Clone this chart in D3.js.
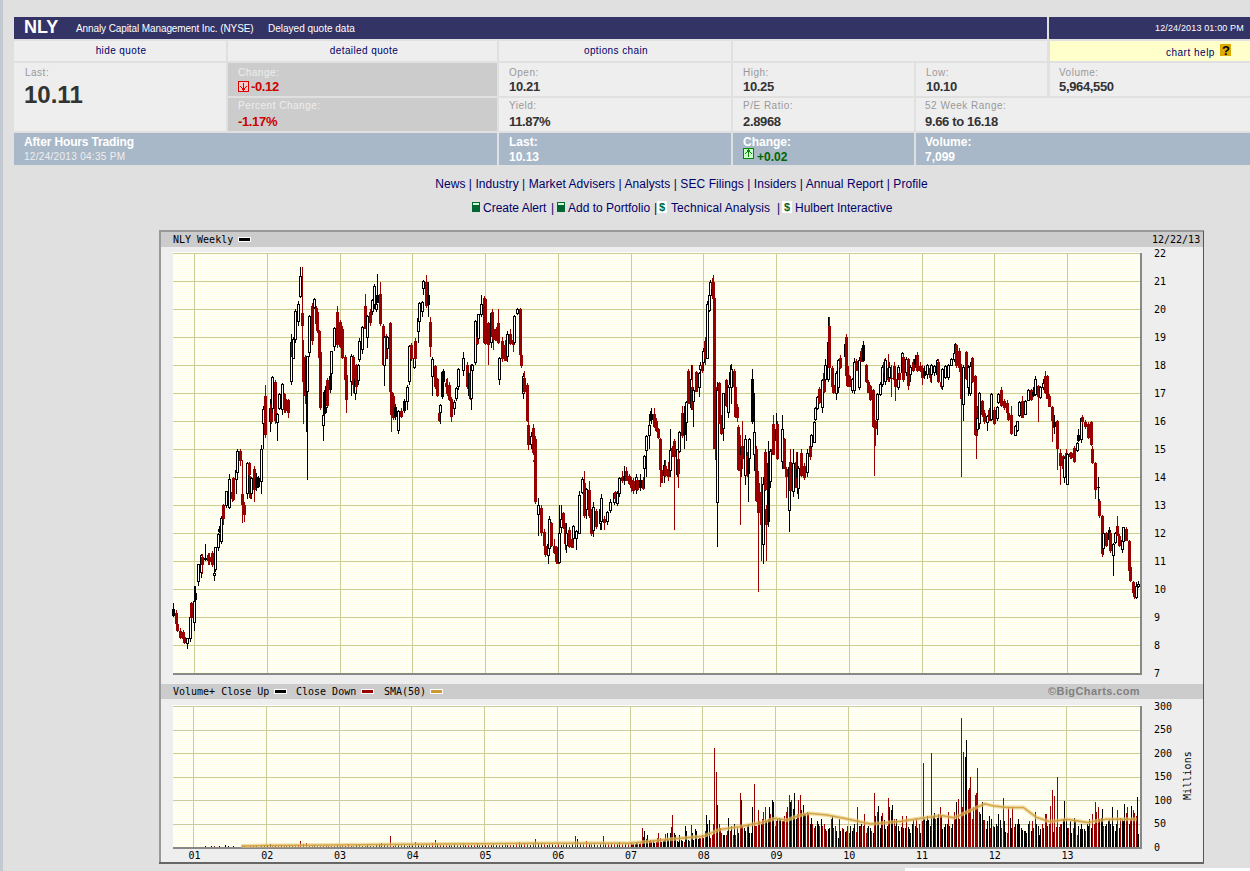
<!DOCTYPE html>
<html>
<head>
<meta charset="utf-8">
<title>NLY Weekly</title>
<script src="https://cdn.jsdelivr.net/npm/d3@7/dist/d3.min.js"></script>
<style>
html, body { margin: 0; padding: 0; background: #e0e0e0; overflow: hidden; }
svg { display: block; }
.mono { font-family: "DejaVu Sans Mono", monospace; font-size: 10px; fill: #000; }
.hdr { font-family: "Liberation Sans", Arial, sans-serif; }
.axis text { font-family: "DejaVu Sans Mono", monospace; font-size: 10px; fill: #000; }
.axis path, .axis line { display: none; }
</style>
</head>
<body>
<div id="chart"></div>
<script>
// weekly candles, one list per calendar year: [week, open, high, low, close]
var yr00 = [[37,9.3,9.5,9.0,9.05],[39,9.15,9.25,8.7,8.75],[40,8.75,8.85,8.45,8.5],[42,8.5,8.6,8.2,8.25],[44,8.45,8.55,8.2,8.22],[45,8.3,8.35,8.05,8.07],[47,8.05,8.25,7.85,8.25],[49,8.25,9.0,8.1,8.97],[50,9.5,9.55,8.9,8.95]];
var yr01 = [[0,8.8,10.1,8.5,9.55],[1,9.85,10.1,9.25,9.62],[3,10.27,10.9,10.1,10.87],[5,10.6,11.25,10.4,11.2],[6,11.15,11.25,10.55,10.85],[8,11.1,11.6,11.0,11.05],[10,11.2,11.3,10.85,11.0],[11,11.15,11.3,10.85,10.95],[13,11.3,11.35,10.8,10.85],[14,10.5,10.75,10.27,10.55],[15,10.7,11.5,10.6,11.5],[17,11.5,12.0,11.35,11.95],[18,12.15,12.25,12.0,12.05],[19,11.7,12.6,11.6,12.53],[21,13.0,13.05,12.3,12.5],[23,13.0,13.5,12.9,13.48],[25,12.9,14.1,12.85,13.9],[27,13.45,13.6,13.1,13.2],[28,13.95,14.0,13.15,13.18],[30,13.9,14.4,13.4,14.25],[31,14.15,15.0,13.9,14.9],[33,14.92,15.0,14.4,14.56],[34,13.4,14.6,12.35,13.0],[36,13.0,13.1,12.4,12.65],[38,13.4,14.55,13.2,14.5],[39,14.5,14.55,13.3,14.08],[40,14.0,14.05,13.2,13.25],[41,13.4,14.0,13.2,13.95],[43,14.3,14.4,13.1,13.55],[44,14.0,14.15,13.5,13.6],[46,13.95,14.05,13.6,13.65],[48,13.85,15.15,13.4,15.0],[49,15.9,16.55,15.0,16.4],[51,16.9,17.3,15.4,15.5]];
var yr02 = [[2,16.0,16.8,15.6,16.45],[3,16.6,16.8,15.9,15.95],[4,16.45,17.6,16.3,17.55],[6,17.4,17.45,15.9,16.0],[7,15.95,16.3,15.3,16.25],[9,16.46,17.0,16.4,16.95],[11,16.4,17.35,16.2,17.3],[12,16.95,17.0,16.3,16.4],[13,16.8,16.9,16.3,16.35],[15,16.75,16.8,16.1,16.3],[17,17.4,19.1,17.3,18.8],[18,18.8,18.85,18.2,18.3],[19,18.25,19.0,18.2,18.9],[20,18.9,20.0,18.8,19.9],[22,19.55,20.3,19.4,20.15],[24,20.45,21.5,20.4,21.15],[25,19.85,21.5,18.3,19.4],[26,18.3,18.9,15.9,17.4],[27,18.3,18.35,16.6,16.9],[28,18.2,18.3,15.6,17.05],[29,17.05,18.3,13.9,18.3],[30,18.45,19.8,18.3,19.75],[32,20.1,20.2,18.7,18.85],[34,20.05,20.4,20.0,20.35],[35,20.05,20.1,19.4,19.45],[36,19.9,20.0,19.15,19.2],[37,19.2,19.25,17.3,18.25],[38,18.45,18.6,16.4,16.45],[40,15.85,16.4,15.3,16.2],[41,17.05,17.1,15.9,16.25],[42,16.5,17.3,16.3,17.25],[43,17.45,17.55,16.5,16.55],[45,17.6,17.7,17.0,17.1],[46,17.7,18.5,17.55,18.5],[48,18.65,19.35,18.5,19.3],[50,19.9,20.1,18.6,18.7]];
var yr03 = [[0,19.55,19.6,18.6,18.65],[2,19.3,19.4,18.2,18.25],[4,18.3,18.35,17.4,17.45],[5,17.65,17.7,16.3,16.75],[8,17.4,18.4,16.9,18.3],[10,18.3,18.35,17.0,17.3],[11,17.0,17.6,16.75,17.5],[12,18.0,18.05,17.1,17.2],[13,17.45,18.05,17.3,18.0],[14,18.2,18.95,18.1,18.85],[16,18.55,19.4,18.4,19.35],[18,20.1,20.55,19.3,19.3],[20,19.0,19.8,18.6,19.75],[22,19.9,20.0,19.4,19.5],[23,19.9,20.35,19.8,20.3],[25,20.15,20.9,20.0,20.8],[26,20.0,20.3,19.9,20.15],[27,20.5,21.25,20.2,20.2],[29,20.55,20.95,19.4,19.45],[31,19.4,19.45,17.95,18.0],[32,18.0,19.05,17.25,19.0],[33,19.05,19.1,18.2,18.25],[34,18.6,19.05,18.2,19.0],[36,19.5,19.55,17.0,17.05],[37,17.05,17.1,15.6,16.2],[38,16.9,17.0,16.05,16.1],[40,16.5,16.6,16.05,16.15],[42,15.65,16.4,15.55,16.35],[44,16.35,16.45,16.1,16.15],[46,16.7,16.8,16.3,16.35],[48,16.7,17.3,16.4,17.2],[50,17.4,18.7,17.3,18.65],[51,18.7,18.8,18.15,18.2]];
var yr04 = [[1,17.9,18.3,17.85,18.25],[2,18.85,18.95,18.15,18.2],[4,19.2,19.7,18.8,19.65],[5,19.55,20.25,19.4,20.2],[7,19.9,20.3,19.7,20.25],[8,20.75,21.05,20.5,21.0],[10,20.95,21.2,20.05,20.1],[11,20.5,20.95,19.7,20.15],[13,19.55,19.7,18.3,18.65],[14,17.6,18.3,16.9,18.2],[16,17.95,18.0,17.15,17.2],[18,17.5,17.55,16.85,16.9],[19,16.3,16.35,15.95,16.0],[20,16.3,16.6,15.9,16.55],[21,17.75,17.8,16.8,16.85],[22,17.8,17.85,17.3,17.4],[24,17.35,17.5,17.15,17.2],[25,17.2,17.55,16.9,16.95],[26,17.3,17.4,16.7,16.75],[28,16.8,16.85,15.95,16.15],[30,16.45,16.75,16.2,16.65],[31,16.8,17.2,16.7,17.15],[33,17.25,17.9,17.1,17.85],[36,17.8,18.45,17.6,18.25],[39,18.0,18.1,17.15,17.2],[40,17.3,17.75,16.9,17.25],[41,17.7,17.75,16.75,16.8],[42,16.8,18.05,16.4,18.0],[43,17.8,18.05,17.4,18.0],[45,18.1,19.6,18.0,19.55],[46,19.0,19.2,18.7,18.75],[47,18.95,19.8,18.9,19.8],[49,19.8,20.5,19.7,20.15],[51,20.4,20.45,18.8,18.8]];
var yr05 = [[0,20.35,20.4,18.7,18.75],[2,19.5,19.55,18.0,18.7],[4,18.8,19.9,18.6,19.85],[5,19.9,20.0,18.9,19.0],[6,19.3,19.4,18.55,18.9],[8,19.3,19.35,18.85,18.85],[9,19.5,20.0,18.75,18.8],[10,17.5,18.3,17.3,18.25],[12,18.85,19.0,18.1,18.2],[14,18.7,18.9,18.15,18.15],[16,18.3,19.2,18.1,19.1],[18,19.1,19.3,18.7,18.75],[20,18.9,19.2,18.45,18.7],[21,18.8,19.8,18.75,19.75],[23,19.85,20.05,19.8,20.0],[25,20.0,20.05,18.3,18.35],[26,18.35,18.4,17.9,17.95],[27,17.0,17.7,16.8,17.6],[28,17.55,17.8,17.0,17.05],[30,17.3,17.35,15.95,16.0],[31,15.85,16.0,14.95,15.15],[33,15.15,15.6,15.0,15.45],[34,15.75,15.9,14.8,14.85],[35,14.6,14.8,14.5,14.55],[36,15.35,15.45,13.05,13.1],[38,12.65,13.25,11.9,13.0],[40,12.9,13.0,11.9,12.0],[42,12.05,12.15,11.4,11.55],[43,11.55,12.0,11.15,11.2],[45,11.2,11.65,10.9,11.6],[46,11.45,12.6,11.4,12.5],[47,12.35,12.4,11.5,11.55],[49,11.55,11.8,11.25,11.3],[51,11.5,11.55,10.9,10.95]];
var yr06 = [[0,11.3,11.35,10.9,10.9],[1,10.95,13.0,10.95,12.0],[2,12.2,13.0,12.0,12.5],[4,12.7,12.75,12.15,12.2],[5,12.3,12.35,11.4,11.6],[6,11.55,12.35,11.3,12.0],[8,12.1,12.2,11.45,11.5],[10,11.8,11.85,11.45,11.45],[11,11.8,12.3,11.6,12.25],[13,11.8,12.1,11.4,12.05],[15,12.0,13.5,11.95,13.35],[17,13.45,14.0,13.4,13.9],[19,13.8,14.2,12.55,12.6],[20,12.85,13.6,12.5,13.55],[22,13.55,13.85,12.55,12.6],[24,12.8,12.85,11.9,11.95],[25,12.1,13.1,11.85,12.9],[27,12.8,12.85,12.15,12.2],[30,12.35,12.95,12.1,12.85],[31,12.4,13.4,12.1,13.25],[33,12.5,12.6,12.1,12.35],[35,12.4,12.8,12.3,12.75],[37,12.8,13.2,12.7,13.1],[40,13.1,13.4,13.0,13.4],[41,13.45,13.5,13.1,13.2],[42,13.05,13.5,12.95,13.4],[44,13.4,14.0,13.3,13.95],[46,14.0,14.2,13.8,13.85],[47,14.05,14.4,13.7,13.9],[49,14.2,14.35,13.85,13.85],[51,14.05,14.1,13.7,13.75]];
var yr07 = [[0,13.9,14.0,13.45,13.6],[2,13.85,13.95,13.4,13.5],[4,13.55,14.1,13.4,14.0],[5,13.9,14.0,13.5,13.55],[7,13.9,14.1,13.5,13.6],[9,13.9,14.0,13.55,13.58],[10,14.3,14.8,13.6,14.75],[11,14.95,15.5,14.0,15.45],[13,15.5,16.0,15.0,15.85],[14,16.25,16.35,16.0,16.0],[15,16.25,16.45,15.9,16.05],[17,16.25,16.45,15.75,15.8],[18,16.0,16.1,15.6,15.65],[20,15.7,15.75,15.35,15.4],[21,15.35,15.4,13.65,14.25],[22,14.25,14.3,13.8,13.8],[24,14.05,14.6,13.8,14.4],[25,14.4,14.6,14.0,14.05],[27,14.3,14.55,13.85,14.0],[28,14.25,15.7,14.0,14.95],[30,15.05,15.1,14.7,14.75],[31,15.3,15.35,12.1,14.7],[33,14.1,15.0,14.0,15.0],[34,14.65,15.0,13.6,14.1],[35,14.9,15.65,14.85,15.6],[37,16.3,16.55,15.4,15.45],[38,16.3,16.55,15.0,15.5],[40,15.95,16.7,15.3,16.65],[41,17.8,17.85,16.6,16.6],[43,16.5,18.0,16.4,17.5],[44,17.2,18.0,16.4,16.45],[45,16.7,17.2,15.8,17.1],[47,17.75,17.8,17.2,17.05],[49,17.2,17.75,16.85,17.7],[50,17.85,18.1,17.7,18.0],[51,18.0,18.3,17.7,17.8]];
var yr08 = [[0,18.1,18.6,17.8,18.5],[1,18.85,19.0,18.0,18.2],[3,18.25,20.3,18.2,20.15],[4,19.95,20.6,19.9,20.5],[5,20.5,21.05,20.45,20.95],[6,20.95,21.1,20.6,20.7],[7,20.95,21.2,20.3,20.35],[8,20.4,20.45,15.0,15.0],[9,17.1,17.2,14.55,14.6],[10,13.1,17.4,11.5,17.1],[11,17.35,17.4,15.9,15.9],[13,16.1,16.2,15.5,15.55],[14,15.75,17.0,15.3,17.0],[16,17.45,17.5,16.5,16.55],[18,16.3,17.3,16.1,17.2],[19,17.3,18.0,17.2,17.75],[20,17.2,18.05,16.6,17.85],[22,17.8,17.85,17.0,17.2],[23,17.2,17.25,16.1,16.15],[24,16.5,16.6,15.95,16.1],[25,15.8,15.85,14.2,14.25],[26,15.0,15.5,12.3,14.2],[27,14.8,15.1,14.0,15.05],[28,15.1,16.0,14.3,14.65],[30,14.05,15.5,13.7,15.35],[31,14.75,14.9,14.0,14.05],[32,14.6,15.0,13.1,14.1],[33,14.65,15.4,14.5,15.35],[35,17.5,17.85,15.9,15.95],[36,14.8,17.0,14.2,15.6],[38,15.0,15.1,13.1,13.15],[39,13.8,14.2,9.9,12.7],[41,13.45,14.0,11.0,12.3],[43,11.6,14.0,10.9,13.75],[44,14.9,15.0,13.5,13.55],[45,12.85,13.0,11.0,12.3],[46,14.5,15.3,12.2,12.4],[48,13.85,15.0,13.6,14.9],[49,15.0,15.1,14.8,14.85],[50,15.9,16.2,14.8,14.8]];
var yr09 = [[0,15.7,16.3,15.2,15.3],[1,15.9,16.0,14.6,14.65],[4,14.55,16.2,14.3,15.7],[6,15.35,15.4,14.3,14.3],[7,14.3,14.35,13.25,14.0],[9,12.8,14.4,12.05,14.35],[10,14.55,15.0,13.5,13.5],[12,13.5,15.0,13.3,14.5],[14,14.55,14.9,13.6,13.6],[15,14.3,14.9,13.4,13.95],[16,13.6,14.4,13.2,14.3],[18,14.85,15.0,14.0,14.05],[20,14.4,14.5,13.9,13.95],[22,14.15,15.0,14.0,14.85],[24,15.1,15.2,14.6,14.7],[25,15.1,15.55,15.0,15.5],[27,15.25,16.0,15.2,15.95],[28,16.05,16.5,16.0,16.45],[29,16.45,16.9,16.4,16.85],[31,17.15,17.2,16.6,16.65],[33,16.5,17.5,16.3,17.45],[34,17.7,17.9,17.0,17.05],[35,17.5,18.2,17.4,18.0],[37,17.5,19.7,17.4,18.8],[38,19.4,19.7,17.85,17.9],[40,17.9,17.95,17.2,17.2],[41,17.3,17.6,16.95,17.0],[43,17.0,17.8,16.75,17.7],[44,17.2,18.2,17.0,18.15],[46,18.25,18.35,17.85,17.9],[49,18.3,18.8,18.0,18.75],[50,19.0,19.1,17.55,17.6],[51,17.95,18.0,17.2,17.25]];
var yr10 = [[0,17.6,17.65,17.2,17.2],[2,17.1,17.55,17.0,17.5],[4,17.1,18.25,16.95,18.1],[5,18.15,18.2,17.8,17.8],[7,17.2,18.3,17.1,18.15],[9,18.5,18.6,18.1,18.1],[10,18.7,18.85,18.1,18.15],[12,18.0,18.05,17.35,17.4],[14,17.4,17.45,17.0,17.0],[15,17.25,17.3,16.7,16.75],[17,17.1,17.15,15.75,15.8],[18,16.0,16.1,14.05,15.75],[19,16.0,16.05,15.1,15.7],[20,16.05,17.0,15.5,16.95],[22,16.95,17.4,16.9,17.3],[24,17.3,18.0,17.2,17.9],[25,18.1,18.2,17.65,17.7],[26,17.4,18.25,17.3,18.15],[28,17.9,18.4,17.4,17.45],[29,17.55,18.1,17.4,17.9],[30,17.55,18.0,16.85,17.5],[32,17.95,18.1,17.45,17.45],[33,17.5,17.55,16.7,17.2],[35,17.2,18.0,17.1,17.9],[36,17.7,17.8,17.4,17.45],[38,17.75,18.45,17.6,18.4],[39,18.3,18.4,17.4,17.45],[41,17.75,18.3,17.6,18.2],[42,18.2,18.25,17.1,17.25],[44,17.65,18.0,17.4,17.9],[46,18.1,18.2,17.75,17.8],[47,18.2,18.35,17.9,18.0],[49,18.35,18.45,17.75,17.8],[51,17.95,18.1,17.75,17.78]];
var yr11 = [[0,17.9,18.0,17.3,17.55],[2,17.8,17.95,17.5,17.6],[4,17.65,18.05,17.5,18.0],[6,17.9,18.0,17.4,17.55],[7,17.65,18.05,17.35,18.0],[9,17.75,18.0,17.6,17.95],[11,17.65,18.2,17.5,18.15],[12,18.1,18.2,17.35,17.4],[14,17.4,17.5,17.15,17.2],[15,17.25,17.9,17.1,17.85],[17,17.55,18.0,17.5,17.95],[19,17.55,18.05,17.45,18.0],[21,18.0,18.25,17.95,18.2],[23,18.2,18.5,18.1,18.4],[24,18.4,18.8,18.3,18.75],[25,18.7,18.75,17.9,17.95],[27,18.5,18.6,17.75,17.9],[28,17.9,18.05,14.0,16.8],[30,16.6,18.0,16.0,17.9],[32,18.45,18.5,17.45,17.5],[33,17.2,18.0,16.9,17.9],[35,17.0,18.1,16.9,17.95],[36,18.25,18.3,17.35,17.4],[38,17.6,17.65,15.45,15.5],[39,16.55,16.6,14.65,15.45],[40,15.7,16.1,15.6,16.1],[41,15.9,17.05,15.7,17.0],[43,16.7,16.75,16.15,16.2],[45,16.3,16.4,15.9,15.95],[47,15.95,16.2,15.65,16.15],[48,16.4,16.45,16.0,16.0],[50,16.05,17.0,16.0,16.95]];
var yr12 = [[0,16.4,16.5,15.85,15.9],[2,16.1,16.55,16.0,16.5],[3,16.65,17.0,16.6,16.95],[5,17.1,17.2,16.5,16.55],[7,16.7,16.8,16.4,16.45],[9,16.65,16.75,16.25,16.3],[10,16.3,16.55,16.0,16.05],[12,16.2,16.55,15.5,15.55],[15,15.5,15.85,15.45,15.8],[16,15.65,16.0,15.6,16.0],[18,16.2,16.7,16.15,16.65],[20,16.7,16.9,16.1,16.1],[22,16.25,16.75,16.2,16.7],[24,16.75,17.15,16.7,17.1],[26,17.1,17.15,16.7,16.75],[28,17.05,17.2,16.85,16.9],[29,16.95,17.6,16.9,17.5],[31,17.25,17.3,15.95,16.85],[33,16.85,17.25,16.8,17.2],[35,17.2,17.5,17.1,17.35],[36,17.6,17.8,16.95,17.0],[38,17.6,17.65,16.8,16.8],[39,16.9,16.95,16.5,16.5],[41,16.5,16.55,15.25,16.0],[42,16.0,16.05,15.75,15.75],[43,15.95,16.2,15.55,15.8],[45,16.0,16.05,14.25,15.0],[47,14.85,15.0,13.7,14.4],[49,14.75,14.8,14.25,14.3],[50,14.0,14.7,13.8,14.65],[51,14.85,15.0,14.0,14.05]];
var yr13 = [[0,13.75,14.85,13.7,14.8],[2,14.85,14.9,14.65,14.7],[3,14.85,14.9,14.65,14.68],[5,15.05,15.1,14.5,14.55],[7,14.95,15.25,14.9,15.2],[8,15.5,15.7,15.25,15.3],[10,15.35,16.15,15.2,16.1],[11,16.15,16.2,15.9,15.95],[13,15.95,16.05,15.7,15.8],[15,15.9,15.95,15.35,15.4],[17,15.95,16.0,15.1,15.15],[18,15.0,15.1,14.45,14.5],[20,14.5,14.55,13.2,13.55],[22,13.65,14.0,13.05,13.6],[23,13.15,13.2,12.55,12.6],[25,12.6,12.65,11.15,11.25],[26,11.45,12.0,11.2,12.0],[28,12.0,12.05,11.5,11.55],[30,12.1,12.2,11.7,11.75],[31,12.0,12.05,11.3,11.35],[33,11.2,11.65,10.45,11.6],[34,11.65,12.05,11.6,12.0],[36,12.25,12.6,11.9,11.9],[37,11.9,11.95,11.5,11.55],[39,11.4,11.8,11.3,11.75],[40,11.7,12.2,11.6,12.2],[42,12.15,12.2,11.7,11.7],[44,11.7,11.75,10.65,10.65],[45,10.8,10.9,10.25,10.3],[47,10.25,10.3,9.85,9.85],[48,10.0,10.05,9.65,9.7],[49,9.7,10.25,9.65,10.1],[51,10.1,10.3,10.05,10.15]];

// volume in millions, evenly spread over each year; negative means close down
var vol00 = [-1,-1,-1,1,-1,-1,1];
var vol01 = [1,-1,1,-1,2,-1,2,-2,1,3,-1,5,2,-1,2,-1,1,2,-2,1,-2,3,2,-1,2,5];
var vol02 = [5,7,-3,5,-3,4,-3,3,-4,3,-3,-4,-12,-6,-8,3,-3,4,-3,-3,3,-4,3,-3,-3,4];
var vol03 = [3,-4,3,-6,3,-3,4,-4,3,-3,4,3,-3,5,6,8,6,-5,-23,3,-4,5,-5,4,-3,4];
var vol04 = [5,-10,7,5,-4,6,-5,-8,-14,6,-4,5,-5,4,-5,6,-4,5,-6,5,-5,4,-5,6,-4,5];
var vol05 = [5,-4,5,-6,5,-5,4,-6,5,-5,4,-6,-10,6,-9,-7,5,-9,-17,9,8,-6,5,-7,6,-5];
var vol06 = [-6,5,-7,6,-5,7,-23,16,8,-7,-12,6,-7,6,-5,7,-24,6,-6,7,-6,6,10,-6,7,-8];
var vol07 = [8,-6,7,-7,8,-9,6,-8,-40,22,35,18,25,12,-15,10,12,8,-10,-20,-30,-20,10,12,15,-28,30,15,30,-42,-68,30,25,12,10,25,15,12,-10,45,35,15,-12,-47,30,15,38,35,18,20,-20,-25];
var vol08 = [20,-35,68,50,58,-20,-25,-50,-210,-160,90,-50,-40,-30,25,25,-25,-35,62,-35,45,-25,50,-25,-40,30,-115,100,-45,40,35,-45,50,30,30,85,-135,-45,-45,-78,-55,50,-60,-75,-85,55,60,85,-70,100,95,-45];
var vol09 = [-55,60,-62,60,-55,55,-65,-75,-85,-110,95,-100,80,115,60,-70,-100,-110,78,90,70,-70,-75,-70,50,62,-50,-40,45,55,48,-45,60,-45,-48,38,-35,38,40,-60,65,-40,-45,35,20,-60,35,-40,38,32,-35,-45];
var vol10 = [-30,45,35,-40,50,-32,-85,45,-45,50,-45,-70,-30,-40,45,40,-35,30,-115,67,-75,87,40,65,-72,58,38,45,-105,85,78,90,-60,45,60,45,35,43,-65,40,40,-65,42,38,30,50,-58,45,-60,40,-50,30];
var vol11 = [-55,-178,60,55,65,58,45,-200,65,72,-60,62,70,-85,65,38,42,48,50,-75,45,-40,50,-75,60,95,-102,-60,-275,-85,-203,192,228,-122,-125,-150,-60,-85,-110,-115,-168,-75,70,95,-58,-58,38,55,65,-40,60,-45];
var vol12 = [42,50,-45,70,58,-40,-105,55,32,-30,-85,62,40,-85,-42,48,50,60,50,40,36,35,35,30,48,-55,33,-55,40,-75,50,45,25,38,-50,40,-70,-70,45,-50,-88,-122,32,-108,-42,-148,-42,-48,50,60,98,60];
var vol13 = [40,-40,55,30,-40,62,-55,-25,45,38,50,38,38,-35,48,45,-60,40,-70,-50,-95,-75,-85,60,62,80,-45,45,50,55,-60,48,85,45,35,50,-78,40,-62,60,55,92,-72,-85,50,-60,88,-78,-72,-65,107,28];

// 50 week average of volume, read at these dates
var smaDates = [2001.65,2002,2003,2004,2005,2006,2007,2007.5,2008,2008.1,2008.22,2008.5,2008.8,2009,2009.15,2009.3,2009.45,2009.7,2010,2010.3,2010.72,2011,2011.27,2011.45,2011.63,2011.87,2012,2012.18,2012.4,2012.58,2012.77,2013,2013.28,2013.54,2013.96];
var smaValues = [2,3,4,6,7,8,8,16,23,29,37,43,52,61,57,66,72,68,59,49,55,61,67,62,75,92,87,84,84,63,54,59,52,59,59];

var yearTicks = [2001,2002,2003,2004,2005,2006,2007,2008,2009,2010,2011,2012,2013];
var priceTicks = [7,8,9,10,11,12,13,14,15,16,17,18,19,20,21,22];
var volumeTicks = [0,50,100,150,200,250,300];

// quote table
var quoteLabels = ["Last:","Change:","Percent Change:","Open:","Yield:","High:","P/E Ratio:","Low:","52 Week Range:","Volume:"];
var quoteValues = ["10.11","-0.12","-1.17%","10.21","11.87%","10.25","2.8968","10.10","9.66 to 16.18","5,964,550"];
var navLinks = "News | Industry | Market Advisers | Analysts | SEC Filings | Insiders | Annual Report | Profile";

var candleYears = [[2000,yr00],[2001,yr01],[2002,yr02],[2003,yr03],[2004,yr04],[2005,yr05],[2006,yr06],[2007,yr07],[2008,yr08],[2009,yr09],[2010,yr10],[2011,yr11],[2012,yr12],[2013,yr13]];
var volumeYears = [[2000,vol00],[2001,vol01],[2002,vol02],[2003,vol03],[2004,vol04],[2005,vol05],[2006,vol06],[2007,vol07],[2008,vol08],[2009,vol09],[2010,vol10],[2011,vol11],[2012,vol12],[2013,vol13]];

var RED = "#990000", GRID = "#cccc99", NAVY = "#333366", STEEL = "#a8b8c8", LINK = "#000066";

var svg = d3.select("#chart").append("svg").attr("width", 1250).attr("height", 871);

function box(x, y, w, h, fill) {
  return svg.append("rect").attr("x", x).attr("y", y).attr("width", w).attr("height", h)
    .attr("fill", fill).attr("shape-rendering", "crispEdges");
}
function label(x, y, s, size, color, weight, spacing) {
  return svg.append("text").attr("class", "hdr").attr("x", x).attr("y", y)
    .attr("font-size", size).attr("fill", color).attr("font-weight", weight || "normal")
    .attr("letter-spacing", spacing || 0).text(s);
}

// ------ page strip and quote table
box(0, 0, 3, 871, "#c3c9d1");
box(14, 17, 1033, 22, NAVY);
box(1049, 17, 201, 22, NAVY);
[[14,212],[228,269],[499,232],[733,314]].forEach(function(c) { box(c[0], 41, c[1], 20, "#eeeeee"); });
box(1050, 41, 200, 20, "#ffffcc");
box(14, 63, 212, 68, "#eeeeee");
box(228, 63, 269, 33, "#cccccc");
box(228, 98, 269, 33, "#cccccc");
[[499,232],[733,181],[916,131],[1050,200]].forEach(function(c) { box(c[0], 63, c[1], 33, "#eeeeee"); });
[[499,232],[733,181],[916,334]].forEach(function(c) { box(c[0], 98, c[1], 33, "#eeeeee"); });
[[14,483],[499,232],[733,181],[916,334]].forEach(function(c) { box(c[0], 133, c[1], 32, STEEL); });

label(24, 33, "NLY", 18, "#fff", "bold");
label(76, 32, "Annaly Capital Management Inc. (NYSE)", 10, "#fff", "normal", -0.1);
label(268, 32, "Delayed quote data", 10, "#fff", "normal", 0);
label(1155, 31, "12/24/2013 01:00 PM", 9, "#fff", "normal", 0.15);
label(121, 54, "hide quote", 10, LINK, "normal", 0.4).attr("text-anchor", "middle");
label(364, 54, "detailed quote", 10, LINK, "normal", 0.4).attr("text-anchor", "middle");
label(616, 54, "options chain", 10, LINK, "normal", 0.4).attr("text-anchor", "middle");
label(1166, 56, "chart help", 10, LINK, "normal", 0.5);
box(1220, 44, 11, 12, "#ddaa00");
label(1222, 55, "?", 13, "#000", "bold");

var labelPos = [[25,76],[238,76],[238,109],[509,76],[509,109],[743,76],[743,109],[926,76],[925,109],[1059,76]];
var valuePos = [[24,103],[251,91],[238,126],[509,91],[509,126],[743,91],[743,126],[926,91],[925,126],[1059,91]];
quoteLabels.forEach(function(s, i) {
  var light = s === "Change:" || s === "Percent Change:";
  label(labelPos[i][0], labelPos[i][1], s, 10, light ? "#eeeeee" : "#999999", "normal", 0.5);
});
quoteValues.forEach(function(s, i) {
  var neg = s.charAt(0) === "-";
  label(valuePos[i][0], valuePos[i][1], s, i === 0 ? 24 : 13, neg ? "#cc0000" : "#333333", "bold", i === 0 ? 0 : -0.35);
});
// little arrow boxes
function arrowBox(x, y, edge, back, up) {
  box(x, y, 11, 11, edge);
  box(x + 1, y + 1, 9, 9, back);
  var d = up ? "M2 6L5.5 2L9 6M5.5 2V9" : "M2 5L5.5 9L9 5M5.5 2V9";
  svg.append("path").attr("transform", "translate(" + x + "," + y + ")").attr("d", d)
    .attr("fill", "none").attr("stroke", edge).attr("shape-rendering", "crispEdges");
}
arrowBox(238, 81, "#dd0000", "#ffcccc", false);
arrowBox(743, 148, "#008800", "#ccffcc", true);

label(24, 146, "After Hours Trading", 12, "#fff", "bold", -0.15);
label(24, 160, "12/24/2013 04:35 PM", 10, "#eeeeee", "normal", 0.3);
label(509, 146, "Last:", 12, "#fff", "bold");
label(509, 161, "10.13", 12, "#fff", "bold");
label(743, 146, "Change:", 12, "#fff", "bold");
label(757, 161, "+0.02", 12, "#006600", "bold");
label(925, 146, "Volume:", 12, "#fff", "bold");
label(925, 161, "7,099", 12, "#fff", "bold");

label(681.5, 188, navLinks, 12, LINK, "normal", 0.07).attr("text-anchor", "middle");
function calc(x) { box(x, 202, 8, 10, "#006633"); box(x + 1, 203, 6, 2, "#ccffcc"); }
function dollar(x) { box(x, 201, 10, 12, "#ffffff"); label(x + 2, 211, "$", 11, "#006633", "bold"); }
calc(472); calc(557); dollar(657); dollar(782);
label(483, 212, "Create Alert", 12, LINK);
label(551, 212, "|", 12, LINK);
label(568, 212, "Add to Portfolio", 12, LINK);
label(654, 212, "|", 12, LINK);
label(671, 212, "Technical Analysis", 12, LINK, "normal", 0.1);
label(777, 212, "|", 12, LINK);
label(795, 212, "Hulbert Interactive", 12, LINK);

// ------ chart panel
box(159, 230, 1045, 634, "#999999");
box(1203, 231, 1, 633, "#555555");
box(159, 862, 1045, 2, "#666666");
box(161, 232, 1042, 630, "#eeeeee");
box(161, 232, 1042, 15, "#cccccc");
box(161, 684, 1042, 15, "#cccccc");
box(905, 868, 345, 3, "#ffffff");

var defs = svg.append("defs");
var dither = defs.append("pattern").attr("id", "dither").attr("width", 2).attr("height", 2)
  .attr("patternUnits", "userSpaceOnUse");
dither.append("rect").attr("width", 2).attr("height", 2).attr("fill", "#ffffff");
dither.append("rect").attr("width", 1).attr("height", 1).attr("fill", "#ffffe4").attr("shape-rendering", "crispEdges");
dither.append("rect").attr("x", 1).attr("y", 1).attr("width", 1).attr("height", 1).attr("fill", "#ffffe4").attr("shape-rendering", "crispEdges");

var mLeft = 173, mRight = 1140, priceTop = 253, priceBottom = 673, volTop = 706, volBottom = 847;

var x = d3.scaleLinear().domain([2001, 2013]).range([194, 1067]);
var yPrice = d3.scaleLinear().domain([7, 22]).range([priceBottom, priceTop]);
var yVol = d3.scaleLinear().domain([0, 300]).range([volBottom, volTop]);

function pane(top, bottom, y, ticks, nudge) {
  var g = svg.append("g").attr("shape-rendering", "crispEdges");
  g.append("rect").attr("x", mLeft - 1).attr("y", top - 1).attr("width", mRight - mLeft + 2).attr("height", 1).attr("fill", "#fff");
  g.append("rect").attr("x", mLeft).attr("y", top).attr("width", mRight - mLeft).attr("height", bottom - top).attr("fill", "url(#dither)");
  g.selectAll(".h").data(ticks).enter().append("line")
    .attr("x1", mLeft).attr("x2", mRight)
    .attr("y1", function(d) { return Math.round(y(d)) + 0.5; })
    .attr("y2", function(d) { return Math.round(y(d)) + 0.5; })
    .attr("stroke", GRID);
  g.selectAll(".v").data(yearTicks).enter().append("line")
    .attr("x1", function(d) { return Math.round(x(d)) + nudge + 0.5; })
    .attr("x2", function(d) { return Math.round(x(d)) + nudge + 0.5; })
    .attr("y1", top).attr("y2", bottom)
    .attr("stroke", GRID);
  g.append("rect").attr("x", mRight).attr("y", top).attr("width", 2).attr("height", bottom - top + 2).attr("fill", "#888888");
  g.append("rect").attr("x", mLeft).attr("y", bottom).attr("width", mRight - mLeft + 2).attr("height", 2).attr("fill", "#888888");
}
pane(priceTop, priceBottom, yPrice, priceTicks, 0);
pane(volTop, volBottom, yVol, volumeTicks, -1);

// ------ candles
var candles = [], prevClose = null;
candleYears.forEach(function(entry) {
  entry[1].forEach(function(r) {
    var c = { t: entry[0] + r[0] / 52, o: r[1], h: r[2], l: r[3], c: r[4] };
    c.filled = c.c < c.o;
    c.color = (c.filled && prevClose !== null && c.c < prevClose) ? RED : "#000000";
    prevClose = c.c;
    candles.push(c);
  });
});

var candle = svg.append("g").attr("shape-rendering", "crispEdges")
  .selectAll("g").data(candles).enter().append("g");

candle.append("line")
  .attr("x1", function(d) { return Math.round(x(d.t)) + 0.5; })
  .attr("x2", function(d) { return Math.round(x(d.t)) + 0.5; })
  .attr("y1", function(d) { return yPrice(d.h); })
  .attr("y2", function(d) { return yPrice(d.l); })
  .attr("stroke", function(d) { return d.color; });

candle.append("rect")
  .attr("x", function(d) { return Math.round(x(d.t)) - 1 + (d.filled ? 0 : 0.5); })
  .attr("width", function(d) { return d.filled ? 3 : 2; })
  .attr("y", function(d) { return yPrice(Math.max(d.o, d.c)); })
  .attr("height", function(d) { return Math.max(1, Math.abs(yPrice(d.o) - yPrice(d.c))); })
  .attr("fill", function(d) { return d.filled ? d.color : "#ffffff"; })
  .attr("stroke", function(d) { return d.filled ? "none" : "#000000"; });

// ------ volume bars
var bars = [];
volumeYears.forEach(function(entry) {
  var start = entry[0] === 2000 ? 2000.72 : entry[0];
  var span = entry[0] + 1 - start;
  entry[1].forEach(function(v, i) {
    bars.push({ t: start + span * i / entry[1].length, v: Math.abs(v), down: v < 0 });
  });
});
svg.append("g").attr("shape-rendering", "crispEdges")
  .selectAll("rect").data(bars).enter().append("rect")
  .attr("x", function(d) { return Math.round(x(d.t)); })
  .attr("width", 1)
  .attr("y", function(d) { return yVol(d.v); })
  .attr("height", function(d) { return volBottom - yVol(d.v); })
  .attr("fill", function(d) { return d.down ? RED : "#000000"; });

// sma line with its pale edge
var smaLine = d3.line()
  .x(function(d, i) { return x(smaDates[i]); })
  .y(function(d) { return yVol(d); });
svg.append("path").attr("d", smaLine(smaValues)).attr("fill", "none")
  .attr("stroke", "#e8c878").attr("stroke-opacity", 0.6).attr("stroke-width", 4);
svg.append("path").attr("d", smaLine(smaValues)).attr("fill", "none")
  .attr("stroke", "#cc9933").attr("stroke-opacity", 0.8).attr("stroke-width", 1.5);

// ------ axes
svg.append("g").attr("class", "axis").attr("transform", "translate(1154,0)")
  .call(d3.axisRight(yPrice).tickValues(priceTicks).tickSize(0).tickPadding(0).tickFormat(d3.format("d")));
svg.append("g").attr("class", "axis").attr("transform", "translate(1154,0)")
  .call(d3.axisRight(yVol).tickValues(volumeTicks).tickSize(0).tickPadding(0).tickFormat(d3.format("d")));
svg.append("g").attr("class", "axis").attr("transform", "translate(0,852)")
  .call(d3.axisBottom(x).tickValues(yearTicks).tickSize(0).tickPadding(0)
    .tickFormat(function(d) { return String(d).slice(2); }));

svg.append("text").attr("class", "mono").attr("transform", "translate(1191,800) rotate(-90)")
  .attr("letter-spacing", 0.1).text("Millions");

// ------ pane titles
function mono(x, y, s) { return svg.append("text").attr("class", "mono").attr("x", x).attr("y", y).text(s); }
function swatch(x, y, color) {
  box(x, y, 13, 5, "#ffffff");
  box(x + 1, y + 1, 11, 3, color);
}
mono(173, 243, "NLY Weekly");
swatch(238, 237, "#000000");
mono(1152, 243, "12/22/13");
mono(173, 695, "Volume+ Close Up");
swatch(274, 689, "#000000");
mono(296, 695, "Close Down");
swatch(361, 689, RED);
mono(384, 695, "SMA(50)");
swatch(430, 689, "#cc9933");
label(1140, 695, "©BigCharts.com", 11, "#808080", "bold", 0.4).attr("text-anchor", "end");
</script>
</body>
</html>
